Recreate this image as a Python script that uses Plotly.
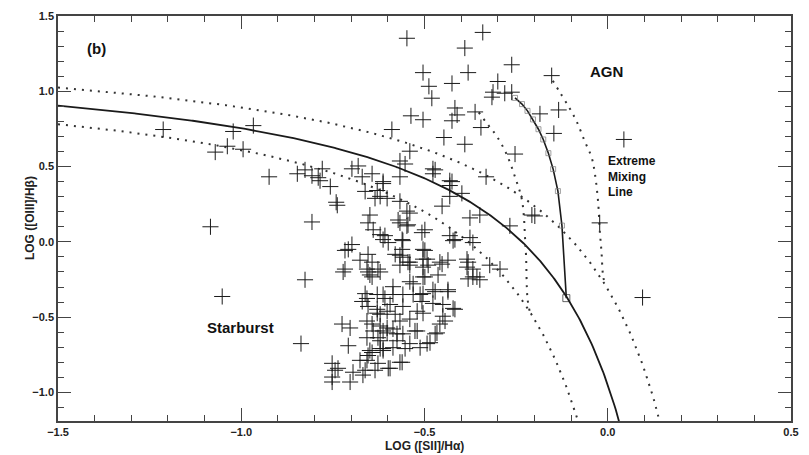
import numpy as np
import plotly.graph_objects as go

# ---------------- data ----------------
sii_ha = [
 -1.213,-1.022,-0.967,-1.038,-1.071,-0.995,-0.924,-0.847,-0.826,-0.807,-0.790,-1.084,-0.807,-1.052,-0.826,-0.837,
 -0.757,-0.738,-0.741,-0.681,-0.670,-0.662,-0.643,-0.613,-0.635,-0.602,-0.649,-0.654,-0.640,-0.621,-0.599,-0.572,
 -0.561,-0.548,-0.567,-0.540,-0.722,-0.717,-0.698,-0.676,-0.654,-0.649,-0.643,-0.654,-0.621,-0.662,-0.670,-0.629,
 -0.613,-0.629,-0.602,-0.657,-0.608,-0.586,-0.654,-0.629,-0.594,-0.621,-0.580,-0.725,-0.703,-0.708,-0.657,-0.643,
 -0.621,-0.602,-0.640,-0.602,-0.575,-0.621,-0.657,-0.627,-0.643,-0.613,-0.586,-0.649,-0.621,-0.676,-0.657,-0.627,
 -0.567,-0.599,-0.635,-0.662,-0.695,-0.752,-0.744,-0.752,-0.736,-0.752,-0.703,-0.668,-0.654,
 -0.567,-0.540,-0.490,-0.452,-0.384,-0.368,-0.349,-0.504,-0.463,-0.531,-0.471,-0.436,-0.586,-0.559,-0.531,-0.504,
 -0.507,-0.559,-0.477,-0.450,-0.417,-0.520,-0.504,-0.450,-0.567,-0.540,-0.444,-0.458,-0.520,-0.466,-0.613,-0.586,
 -0.575,-0.540,-0.512,-0.485,-0.553,-0.613,-0.594,-0.526,-0.559,-0.471,-0.493,-0.561,
 -0.540,-0.499,-0.507,-0.499,-0.504,-0.545,-0.458,-0.436,-0.384,-0.322,-0.294,-0.499,-0.381,-0.357,-0.540,-0.436,
 -0.477,-0.512,-0.422,-0.431,-0.417,-0.376,-0.368,-0.452,-0.376,-0.349,-0.431,-0.398,-0.267,-0.207,-0.199,-0.332,
 -0.431,-0.477,-0.471,-0.540,-0.567,-0.589,-0.537,-0.504,-0.417,-0.411,-0.425,-0.362,-0.346,-0.447,-0.390,-0.253,
 -0.147,-0.185,-0.134,-0.153,-0.281,-0.262,-0.313,-0.316,-0.300,-0.262,-0.480,-0.488,-0.425,-0.381,-0.504,-0.390,
 -0.341,-0.548,0.044,-0.022,0.095,
 -0.785,-0.779,-0.698,-0.629,-0.621,-0.657,-0.717,-0.627,-0.643,-0.613,-0.708,-0.553,-0.567,-0.477,-0.425,-0.431,
 -0.613,-0.567,-0.548,-0.567,-0.545,-0.608,-0.559,-0.561,-0.504,-0.580,-0.559,-0.493,-0.381,-0.504,-0.368,-0.422,
]
oiii_hb = [
 0.746,0.733,0.772,0.635,0.596,0.615,0.432,0.452,0.478,0.439,0.426,0.100,0.132,-0.363,-0.252,-0.676,
 0.367,0.243,0.263,0.504,0.432,0.335,0.452,0.400,0.289,0.289,0.178,0.126,0.080,0.048,-0.005,0.145,
 0.015,0.106,-0.089,-0.135,-0.200,-0.057,-0.018,-0.122,-0.083,-0.220,-0.233,-0.200,-0.200,-0.344,-0.396,-0.350,
 -0.350,-0.474,-0.461,-0.376,-0.376,-0.350,-0.429,-0.448,-0.416,-0.481,-0.481,-0.546,-0.572,-0.690,-0.526,-0.546,
 -0.559,-0.605,-0.592,-0.572,-0.611,-0.657,-0.637,-0.637,-0.735,-0.722,-0.703,-0.722,-0.709,-0.787,-0.787,-0.807,
 -0.800,-0.840,-0.853,-0.853,-0.866,-0.807,-0.853,-0.898,-0.840,-0.931,-0.931,-0.885,-0.755,
 -0.155,-0.155,-0.155,-0.148,-0.168,-0.233,-0.252,-0.233,-0.220,-0.279,-0.331,-0.331,-0.298,-0.350,-0.350,-0.344,
 -0.396,-0.429,-0.409,-0.416,-0.448,-0.461,-0.474,-0.494,-0.526,-0.513,-0.526,-0.546,-0.592,-0.605,-0.592,-0.579,
 -0.657,-0.676,-0.703,-0.670,-0.709,-0.709,-0.840,-0.592,-0.611,-0.611,-0.676,-0.800,
 0.191,0.080,0.061,-0.057,-0.115,-0.135,-0.135,-0.122,-0.115,-0.155,-0.181,-0.233,-0.246,-0.233,-0.265,-0.318,
 -0.318,-0.350,-0.442,0.041,0.015,0.028,-0.005,0.237,0.159,0.178,0.302,0.322,0.106,0.178,0.172,0.432,
 0.406,0.452,0.478,0.602,0.537,0.746,0.837,0.811,0.889,0.843,0.804,0.863,0.759,0.693,0.648,0.583,
 0.720,0.850,0.876,1.104,0.987,0.994,0.994,0.961,1.065,1.176,0.954,1.033,1.052,1.124,1.124,1.287,
 1.391,1.352,0.680,0.126,-0.370,
 0.406,0.485,0.485,0.341,0.302,-0.181,-0.181,-0.181,-0.135,0.015,-0.050,0.517,0.432,0.485,0.400,0.374,
 0.387,0.269,0.204,0.126,0.113,0.041,0.008,-0.050,-0.050,-0.083,-0.102,-0.115,-0.135,-0.168,-0.181,0.008,
]

# extreme mixing line (squares)
mix_x = [-0.253,-0.234,-0.219,-0.204,-0.189,-0.176,-0.162,-0.149,-0.136,-0.125,-0.113]
mix_y = [0.956,0.915,0.870,0.813,0.748,0.680,0.589,0.483,0.337,0.108,-0.374]

# dotted mixing curves
mixA_x = [-0.352,-0.327,-0.303,-0.276,-0.253,-0.235,-0.229,-0.226,-0.223,-0.219,-0.213]
mixA_y = [0.860,0.778,0.702,0.582,0.431,0.289,0.172,0.041,-0.089,-0.376,-0.461]
mixB_x = [-0.150,-0.131,-0.104,-0.085,-0.063,-0.044,-0.035,-0.026,-0.022,-0.017,-0.013,-0.008]
mixB_y = [1.070,0.995,0.887,0.800,0.669,0.561,0.452,0.256,0.082,-0.070,-0.220,-0.279]

# Kewley et al. (2001) maximum starburst line and +/-0.1 dex bands
K_A, K_B, K_C = 0.72, 0.32, 1.30
BAND = 0.1

x_tick_vals = [-1.5, -1.0, -0.5, 0.0, 0.5]
y_tick_vals = [-1.0, -0.5, 0.0, 0.5, 1.0, 1.5]

FONT = "Liberation Sans, Arial, Helvetica, sans-serif"
INK = "#1a1a1a"

fig = go.Figure()

def kewley(x0, x1, shift):
    xs = np.linspace(x0, x1, 400)
    ys = K_A / (xs - K_B - shift) + K_C + shift
    return xs, ys

dot = dict(color="#333333", width=2, dash="2px,6px")

xs, ys = kewley(-1.5, 0.16, BAND)
fig.add_trace(go.Scatter(x=xs, y=ys, mode="lines", line=dot, hoverinfo="skip"))
xs, ys = kewley(-1.5, -0.065, -BAND)
fig.add_trace(go.Scatter(x=xs, y=ys, mode="lines", line=dot, hoverinfo="skip"))
xs, ys = kewley(-1.5, 0.045, 0.0)
fig.add_trace(go.Scatter(x=xs, y=ys, mode="lines", line=dict(color=INK, width=1.8), hoverinfo="skip"))

fig.add_trace(go.Scatter(x=mixA_x, y=mixA_y, mode="lines", line=dict(dot, shape="spline"), hoverinfo="skip"))
fig.add_trace(go.Scatter(x=mixB_x, y=mixB_y, mode="lines", line=dict(dot, shape="spline"), hoverinfo="skip"))

fig.add_trace(go.Scatter(x=mix_x, y=mix_y, mode="lines+markers",
                         line=dict(color=INK, width=1.6),
                         marker=dict(symbol="square-open", size=[5]*(len(mix_x)-1)+[7],
                                     color=["#777777"]*(len(mix_x)-1)+["#222222"],
                                     line=dict(width=1))))

fig.add_trace(go.Scatter(x=sii_ha, y=oiii_hb, mode="markers",
                         marker=dict(symbol="cross-thin", size=11.5,
                                     line=dict(width=1, color=INK))))

axis_common = dict(
    showgrid=False, zeroline=False, showline=True, linecolor="#444444", linewidth=1.5,
    mirror="allticks", ticks="inside", ticklen=13, tickwidth=1.2, tickcolor="#444444",
    tickformat=".1f", tickfont=dict(family=FONT, size=11, color="#222222", weight="bold"),
    minor=dict(ticks="inside", ticklen=6, tickwidth=1, tickcolor="#444444", dtick=0.1),
)
fig.update_xaxes(range=[-1.5, 0.5], tickvals=x_tick_vals, **axis_common)
fig.update_yaxes(range=[-1.19, 1.5], tickvals=y_tick_vals, **axis_common)

ann = [
    dict(x=97, y=43, text="(b)", size=15),
    dict(x=607, y=66, text="AGN", size=15),
    dict(x=241, y=326, text="Starburst", size=15),
]
annotations = []
for a in ann:
    annotations.append(dict(xref="paper", yref="paper",
                            x=(a["x"] - 58) / (809 - 58 - 17), y=1 - (a["y"] - 10) / (455 - 10 - 34),
                            text="<b>%s</b>" % a["text"], showarrow=False,
                            font=dict(family=FONT, size=a["size"], color="#111111"),
                            xanchor="center", yanchor="middle"))
annotations.append(dict(xref="paper", yref="paper", x=(607 - 58) / 734, y=1 - (173 - 10) / 411,
                        text="<b>Extreme<br>Mixing<br>Line</b>", showarrow=False, align="left",
                        font=dict(family=FONT, size=12, color="#111111"),
                        xanchor="left", yanchor="middle"))
annotations.append(dict(xref="paper", yref="paper", x=(425 - 58) / 734, y=1 - (446 - 10) / 411,
                        text="<b>LOG ([SII]/H\u03b1)</b>", showarrow=False,
                        font=dict(family=FONT, size=12, color="#222222"),
                        xanchor="center", yanchor="middle"))
annotations.append(dict(xref="paper", yref="paper", x=(30 - 58) / 734, y=1 - (215 - 10) / 411,
                        text="<b>LOG ([OIII]/H\u03b2)</b>", showarrow=False, textangle=-90,
                        font=dict(family=FONT, size=12, color="#222222"),
                        xanchor="center", yanchor="middle"))

fig.update_layout(
    width=809, height=455, margin=dict(l=58, r=17, t=10, b=34),
    paper_bgcolor="white", plot_bgcolor="white", showlegend=False,
    annotations=annotations,
)

fig.write_html("out.html")
